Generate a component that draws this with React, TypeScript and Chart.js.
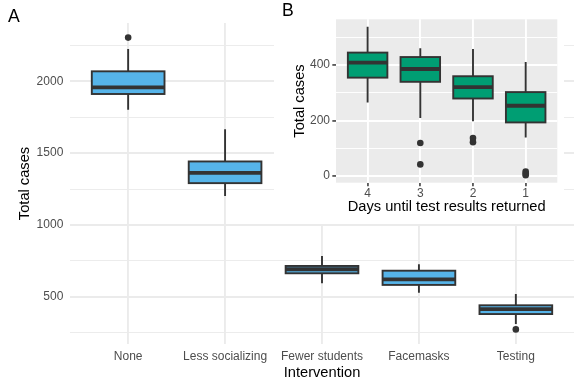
import React, { useEffect, useRef } from "react";
import { Chart, registerables } from "chart.js";

Chart.register(...registerables);

const FONT = '"Liberation Sans", Arial, Helvetica, sans-serif';

// ---- Panel A: interventions ----
const interventions = ["None", "Less socializing", "Fewer students", "Facemasks", "Testing"];
const intMin = [1803, 1202, 593, 528, 310];
const intQ1 = [1912, 1291, 663, 582, 379];
const intMedian = [1958, 1363, 691, 621, 414];
const intQ3 = [2070, 1442, 714, 681, 440];
const intMax = [2226, 1667, 784, 726, 519];
const intOutliers = [[2305], [], [], [], [272]];
const intYMajor = [500, 1000, 1500, 2000];
const intYMinor = [250, 750, 1250, 1750, 2250];

// ---- Panel B: days until test results returned ----
const days = ["4", "3", "2", "1"];
const dayMin = [265, 209, 197, 139];
const dayQ1 = [354, 339, 279, 193];
const dayMedian = [408, 385, 320, 253];
const dayQ3 = [444, 428, 359, 302];
const dayMax = [537, 460, 457, 410];
const dayOutliers = [[], [119, 42], [137, 122], [16, 9, 3]];
const dayYMajor = [0, 200, 400];
const dayYMinor = [100, 300, 500];

type Spec = {
  labels: string[];
  min: number[];
  q1: number[];
  med: number[];
  q3: number[];
  max: number[];
  outliers: number[][];
  major: number[];
  minor: number[];
  fill: string;
  gray: boolean;
  tag: string;
  tagX: number;
  tagY: number;
  xTitle: string;
  yTitle: string;
  padding: { top: number; right: number; left: number; bottom: number };
  yAxisWidth: number;
  xAxisHeight: number;
  yTickPad: number;
  xTickPad: number;
  yTitlePad: number;
  xTitlePad: number;
};

const specA: Spec = {
  labels: interventions,
  min: intMin,
  q1: intQ1,
  med: intMedian,
  q3: intQ3,
  max: intMax,
  outliers: intOutliers,
  major: intYMajor,
  minor: intYMinor,
  fill: "#56B4E9",
  gray: false,
  tag: "A",
  tagX: 8,
  tagY: 21.7,
  xTitle: "Intervention",
  yTitle: "Total cases",
  padding: { top: 23, right: 7, left: 0, bottom: 0 },
  yAxisWidth: 70,
  xAxisHeight: 44,
  yTickPad: 6.7,
  xTickPad: 6.4,
  yTitlePad: 18,
  xTitlePad: 8.2,
};

const specB: Spec = {
  labels: days,
  min: dayMin,
  q1: dayQ1,
  med: dayMedian,
  q3: dayQ3,
  max: dayMax,
  outliers: dayOutliers,
  major: dayYMajor,
  minor: dayYMinor,
  fill: "#009E73",
  gray: true,
  tag: "B",
  tagX: 8,
  tagY: 16,
  xTitle: "Days until test results returned",
  yTitle: "Total cases",
  padding: { top: 19.3, right: 6.7, left: 0, bottom: 0 },
  yAxisWidth: 62,
  xAxisHeight: 41.3,
  yTickPad: 2.3,
  xTickPad: 1.2,
  yTitlePad: 18.5,
  xTitlePad: 10,
};

function buildChart(canvas: HTMLCanvasElement, s: Spec) {
  const n = s.labels.length;
  const all = [...s.min, ...s.max, ...s.outliers.flat()];
  const lo = Math.min(...all);
  const hi = Math.max(...all);
  const pad = (hi - lo) * 0.05;
  const yMin = lo - pad;
  const yMax = hi + pad;
  const isMajor = (v: number) => s.major.includes(v);
  const gridColor = s.gray ? "#FFFFFF" : "#EBEBEB";
  const dark = "#333333";

  const bgPlugin = {
    id: "bg",
    beforeDraw(chart: any) {
      const { ctx, chartArea } = chart;
      ctx.save();
      ctx.fillStyle = "#FFFFFF";
      ctx.fillRect(0, 0, chart.width, chart.height);
      if (s.gray) {
        ctx.fillStyle = "#EBEBEB";
        ctx.fillRect(chartArea.left, chartArea.top, chartArea.right - chartArea.left, chartArea.bottom - chartArea.top);
      }
      ctx.restore();
    },
  };

  const boxPlugin = {
    id: "box",
    beforeDatasetsDraw(chart: any) {
      const { ctx } = chart;
      const y = chart.scales.y;
      const meta = chart.getDatasetMeta(0);
      ctx.save();
      ctx.strokeStyle = dark;
      ctx.lineWidth = 1.9;
      ctx.lineCap = "butt";
      meta.data.forEach((bar: any, i: number) => {
        const { x } = bar.getProps(["x"], true);
        ctx.beginPath();
        ctx.moveTo(x, y.getPixelForValue(s.q3[i]));
        ctx.lineTo(x, y.getPixelForValue(s.max[i]));
        ctx.moveTo(x, y.getPixelForValue(s.q1[i]));
        ctx.lineTo(x, y.getPixelForValue(s.min[i]));
        ctx.stroke();
      });
      ctx.restore();
    },
    afterDatasetDraw(chart: any, args: any) {
      if (args.index !== 0) return;
      const { ctx } = chart;
      const y = chart.scales.y;
      const meta = chart.getDatasetMeta(0);
      ctx.save();
      ctx.strokeStyle = dark;
      ctx.lineJoin = "miter";
      meta.data.forEach((bar: any, i: number) => {
        const { x, width } = bar.getProps(["x", "width"], true);
        const left = x - width / 2;
        const top = y.getPixelForValue(s.q3[i]);
        const bottom = y.getPixelForValue(s.q1[i]);
        ctx.lineWidth = 1.9;
        ctx.strokeRect(left, top, width, bottom - top);
        const m = y.getPixelForValue(s.med[i]);
        ctx.lineWidth = 3.8;
        ctx.beginPath();
        ctx.moveTo(left, m);
        ctx.lineTo(left + width, m);
        ctx.stroke();
      });
      ctx.restore();
    },
  };

  const tagPlugin = {
    id: "tag",
    afterDraw(chart: any) {
      const { ctx } = chart;
      ctx.save();
      ctx.font = `17.6px ${FONT}`;
      ctx.fillStyle = "#000000";
      ctx.textBaseline = "alphabetic";
      ctx.textAlign = "left";
      ctx.fillText(s.tag, s.tagX, s.tagY);
      ctx.restore();
    },
  };

  const tickFont = { family: FONT, size: 12, lineHeight: 1 };
  const titleFont = { family: FONT, size: 14.67, lineHeight: 1 };

  return new Chart(canvas, {
    type: "bar",
    data: {
      datasets: [
        {
          type: "bar",
          data: s.labels.map((_, i) => ({ x: i + 1, y: [s.q1[i], s.q3[i]] })) as any,
          backgroundColor: s.fill,
          borderWidth: 0,
          barPercentage: 0.75,
          categoryPercentage: 1,
        },
        {
          type: "scatter",
          data: s.outliers.flatMap((arr, i) => arr.map((v) => ({ x: i + 1, y: v }))),
          pointRadius: 3.3,
          pointBackgroundColor: dark,
          pointBorderWidth: 0,
          showLine: false,
        } as any,
      ],
    },
    options: {
      responsive: false,
      animation: false,
      events: [],
      layout: { padding: s.padding },
      plugins: {
        legend: { display: false },
        tooltip: { enabled: false },
        title: { display: false },
      },
      scales: {
        x: {
          type: "linear",
          min: 0.4,
          max: n + 0.6,
          offset: false,
          afterBuildTicks: (sc: any) => {
            sc.ticks = s.labels.map((_, i) => ({ value: i + 1 }));
          },
          afterFit: (sc: any) => {
            sc.height = s.xAxisHeight;
          },
          ticks: {
            autoSkip: false,
            maxRotation: 0,
            minRotation: 0,
            padding: s.xTickPad,
            color: "#4D4D4D",
            font: tickFont,
            callback: (_v: any, i: number) => s.labels[i] ?? "",
          },
          grid: {
            offset: false,
            color: gridColor,
            lineWidth: 1.9,
            drawTicks: s.gray,
            tickLength: 3.67,
            tickColor: dark,
            tickWidth: 1.5,
          },
          border: { display: false },
          title: {
            display: true,
            text: s.xTitle,
            color: "#000000",
            font: titleFont,
            padding: { top: 0, bottom: s.xTitlePad },
          },
        },
        y: {
          type: "linear",
          min: yMin,
          max: yMax,
          beginAtZero: false,
          afterBuildTicks: (sc: any) => {
            sc.ticks = [...s.major, ...s.minor]
              .filter((v) => v >= yMin && v <= yMax)
              .sort((a, b) => a - b)
              .map((v) => ({ value: v }));
          },
          afterFit: (sc: any) => {
            sc.width = s.yAxisWidth;
          },
          ticks: {
            autoSkip: false,
            padding: s.yTickPad,
            color: "#4D4D4D",
            font: tickFont,
            callback: (v: any) => (isMajor(v) ? String(v) : ""),
          },
          grid: {
            color: gridColor,
            lineWidth: (c: any) => (c.tick && !isMajor(c.tick.value) ? 0.95 : 1.9),
            drawTicks: s.gray,
            tickLength: 3.67,
            tickColor: (c: any) => (c.tick && isMajor(c.tick.value) ? dark : "rgba(0,0,0,0)"),
            tickWidth: 1.5,
          },
          border: { display: false },
          title: {
            display: true,
            text: s.yTitle,
            color: "#000000",
            font: titleFont,
            padding: { top: s.yTitlePad, bottom: 0 },
          },
        },
      },
    } as any,
    plugins: [bgPlugin, boxPlugin, tagPlugin],
  });
}

export default function App() {
  const mainRef = useRef<HTMLCanvasElement>(null);
  const insetRef = useRef<HTMLCanvasElement>(null);

  useEffect(() => {
    const a = buildChart(mainRef.current as HTMLCanvasElement, specA);
    const b = buildChart(insetRef.current as HTMLCanvasElement, specB);
    return () => {
      a.destroy();
      b.destroy();
    };
  }, []);

  return (
    <div style={{ position: "absolute", left: 0, top: 0, width: 581, height: 388, background: "#FFFFFF" }}>
      <canvas
        ref={mainRef}
        width={581}
        height={388}
        style={{ position: "absolute", left: 0, top: 0, width: 581, height: 388 }}
      />
      <canvas
        ref={insetRef}
        width={290}
        height={224}
        style={{ position: "absolute", left: 274, top: 0, width: 290, height: 224 }}
      />
    </div>
  );
}
